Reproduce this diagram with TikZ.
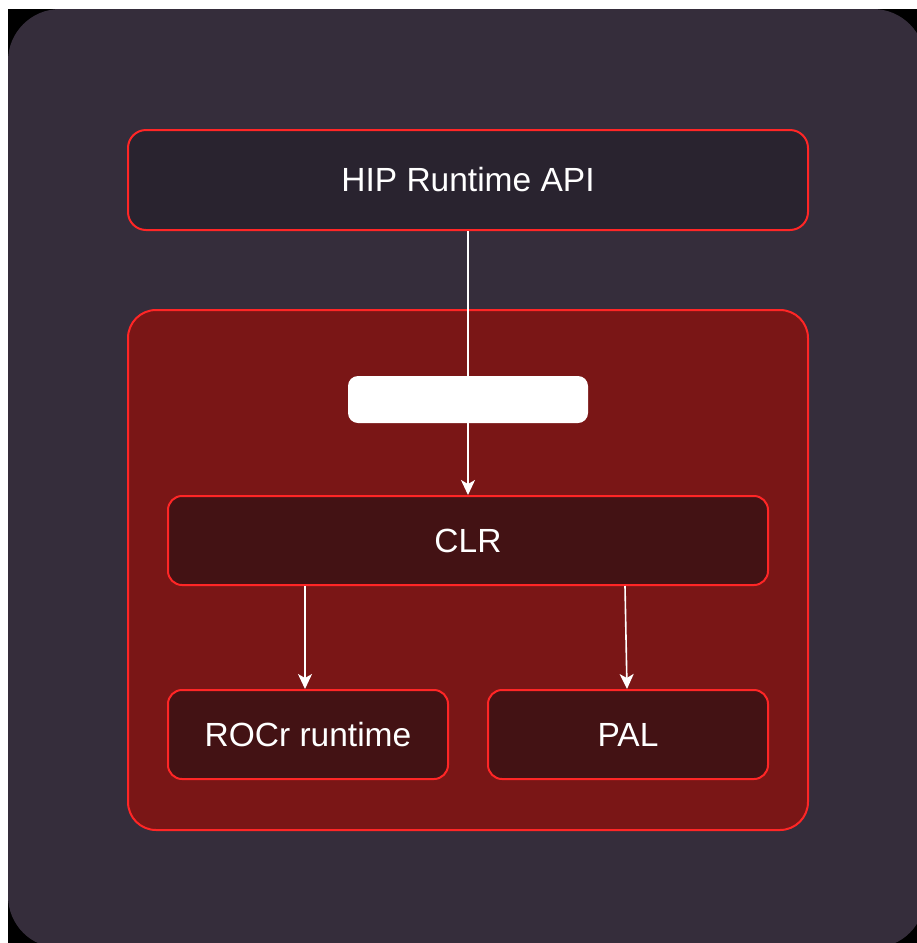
\documentclass[tikz,border=0pt]{standalone}
\usepackage{xcolor}
\usepackage{fontspec}
\setmainfont{Liberation Sans}
\usepackage{tikz}
\usetikzlibrary{arrows.meta}

\definecolor{fondo}{HTML}{352D3B}
\definecolor{fondohip}{HTML}{29232F}
\definecolor{rojo}{HTML}{7A1616}
\definecolor{rojooscuro}{HTML}{431214}
\definecolor{borde}{HTML}{FF2626}

\begin{document}
\begin{tikzpicture}[x=1pt, y=-1pt,
    caja/.style={draw=borde, line width=2pt, inner sep=0pt, text=white,
      font=\fontsize{33.5}{40}\selectfont},
    flecha/.style={-{Stealth[length=15pt, width=14pt, inset=4pt]}, white, line width=1.6pt}]
      \useasboundingbox (0,0) rectangle (917,943);
      \fill[white] (0,0) rectangle (917,943);
      \fill[black] (8,9) rectangle (917,943);
      \begin{scope}
        \clip (0,0) rectangle (917,943);
        \fill[fondo, rounded corners=52pt] (8,9) rectangle (925,948);
      \end{scope}

      % Nodos
      \node[caja, fill=fondohip, rounded corners=18pt, minimum width=680pt, minimum height=100pt] (hip) at (468,180) {\raisebox{2pt}{HIP Runtime API}};
      \node[caja, fill=rojo, rounded corners=28pt, minimum width=680pt, minimum height=520pt] (hipamd) at (468,570) {};
      \node[caja, fill=rojooscuro, rounded corners=14pt, minimum width=600pt, minimum height=89pt] (clr) at (468,540.5) {CLR};
      \node[caja, fill=rojooscuro, rounded corners=14pt, minimum width=280pt, minimum height=89pt] (rocr) at (308,734.5) {ROCr runtime};
      \node[caja, fill=rojooscuro, rounded corners=14pt, minimum width=280pt, minimum height=89pt] (pal) at (628,734.5) {PAL};

      % Flechas
      \draw[flecha] (hip.south) -- (clr.north);
      \draw[flecha] ([xshift=-163pt]clr.south) -- ([xshift=-3pt]rocr.north);
      \draw[flecha] ([xshift=157pt]clr.south) -- ([xshift=-1pt]pal.north);

      % Etiqueta en blanco
      \node[fill=white, rounded corners=10pt, minimum width=240pt, minimum height=47pt, inner sep=0pt] (etiqueta) at (468,399.5) {};
    \end{tikzpicture}
\end{document}
